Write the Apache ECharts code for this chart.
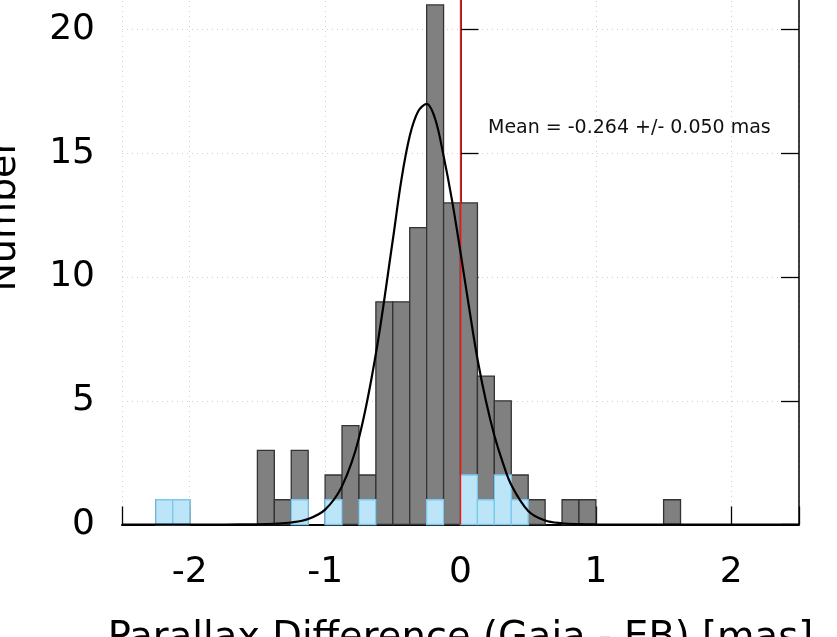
<!DOCTYPE html>
<html>
<head>
<meta charset="utf-8">
<script src="https://cdn.jsdelivr.net/npm/echarts@6/dist/echarts.min.js"></script>
<style>
  html, body { margin: 0; padding: 0; background: #fff; }
  #main { width: 837px; height: 637px; }
</style>
</head>
<body>
<div id="main"></div>
<script>
// histogram bins (0.125 mas wide), left edges
var binWidth = 0.125;
var binStart = [-2.25, -2.125, -2.0, -1.875, -1.75, -1.625, -1.5, -1.375, -1.25, -1.125,
    -1.0, -0.875, -0.75, -0.625, -0.5, -0.375, -0.25, -0.125, 0, 0.125,
    0.25, 0.375, 0.5, 0.625, 0.75, 0.875, 1.0, 1.125, 1.25, 1.375, 1.5];
// all stars
var totalCounts = [1, 1, 0, 0, 0, 0, 3, 1, 3, 0,
    2, 4, 2, 9, 9, 12, 21, 13, 13, 6,
    5, 2, 1, 0, 1, 1, 0, 0, 0, 0, 1];
// highlighted subset (light blue)
var subsetCounts = [1, 1, 0, 0, 0, 0, 0, 0, 1, 0,
    1, 0, 1, 0, 0, 0, 1, 0, 2, 1,
    2, 1, 0, 0, 0, 0, 0, 0, 0, 0, 0];

// gaussian fit
var fitX = [-2.5, -1.75, -1.5, -1.375, -1.25, -1.125, -1.0, -0.875, -0.75, -0.625,
    -0.5, -0.4375, -0.375, -0.3125, -0.25, -0.1875, -0.125, -0.0625, 0, 0.0625,
    0.125, 0.1875, 0.25, 0.3125, 0.375, 0.5, 0.625, 0.75, 0.875, 1.0, 1.25, 2.5];
var fitY = [0, 0, 0.01, 0.03, 0.08, 0.22, 0.6, 1.55, 3.5, 6.9,
    11.5, 13.9, 15.7, 16.7, 17.0, 16.4, 14.9, 13.1, 11.0, 8.8,
    6.7, 5.0, 3.6, 2.5, 1.6, 0.55, 0.16, 0.05, 0.015, 0.004, 0, 0];

var meanValue = 0;
var meanText = 'Mean = -0.264 +/- 0.050 mas';

var xTitle = 'Parallax Difference (Gaia - EB) [mas]';
var yTitle = 'Number';

var FONT = 'DejaVu Sans';

function binData(counts) {
    var out = [];
    for (var i = 0; i < binStart.length; i++) {
        if (counts[i] > 0) out.push([binStart[i], binStart[i] + binWidth, counts[i]]);
    }
    return out;
}

function barRenderer(fill, stroke) {
    return function (params, api) {
        var p0 = api.coord([api.value(0), api.value(2)]);
        var p1 = api.coord([api.value(1), 0]);
        return {
            type: 'rect',
            shape: {x: p0[0], y: p0[1], width: p1[0] - p0[0], height: p1[1] - p0[1]},
            style: {fill: fill, stroke: stroke, lineWidth: 1.3}
        };
    };
}

var chart = echarts.init(document.getElementById('main'));

var fitData = fitX.map(function (x, i) { return [x, fitY[i]]; });

chart.setOption({
    animation: false,
    backgroundColor: '#fff',
    grid: {left: 122, right: 38, top: -94, bottom: 112.5, containLabel: false, outerBoundsMode: 'none'},
    xAxis: {
        type: 'value',
        min: -2.5,
        max: 2.5,
        splitNumber: 5,
        name: xTitle,
        nameLocation: 'middle',
        nameGap: 95,
        nameTextStyle: {fontFamily: FONT, fontSize: 38.5, color: '#000'},
        axisLine: {onZero: false, lineStyle: {color: '#000', width: 2}},
        axisTick: {inside: true, length: 18, lineStyle: {color: '#000', width: 1.3}},
        axisLabel: {
            fontFamily: FONT, fontSize: 36, color: '#000', margin: 30,
            formatter: function (v) { return Math.abs(v) > 2.4 ? '' : String(v); }
        },
        splitLine: {show: true, lineStyle: {color: '#d0d0d0', type: [1, 4], width: 1}}
    },
    yAxis: [{
        type: 'value',
        min: 0,
        max: 25,
        interval: 5,
        name: yTitle,
        nameLocation: 'middle',
        nameGap: 98,
        nameTextStyle: {fontFamily: FONT, fontSize: 38, color: '#000'},
        axisLine: {show: true, lineStyle: {color: '#000', width: 1.5}},
        axisTick: {show: true, inside: true, length: 18, lineStyle: {color: '#000', width: 1.3}},
        axisLabel: {fontFamily: FONT, fontSize: 36, color: '#000', margin: 27, showMaxLabel: false},
        splitLine: {show: true, lineStyle: {color: '#d0d0d0', type: [1, 4], width: 1}}
    }, {
        type: 'value',
        position: 'right',
        min: 0,
        max: 25,
        interval: 5,
        axisLine: {show: true, lineStyle: {color: '#000', width: 1.5}},
        axisTick: {show: true, inside: true, length: 18, lineStyle: {color: '#000', width: 1.3}},
        axisLabel: {show: false},
        splitLine: {show: false}
    }],
    graphic: [{
        type: 'text',
        left: 488,
        top: 119,
        z: 10,
        style: {text: meanText, fontFamily: FONT, fontSize: 19, fill: '#111'}
    }],
    series: [{
        type: 'custom',
        name: 'all',
        z: 2,
        renderItem: barRenderer('#808080', '#333333'),
        encode: {x: [0, 1], y: 2},
        data: binData(totalCounts)
    }, {
        type: 'custom',
        name: 'subset',
        z: 3,
        renderItem: barRenderer('#bde5f8', '#7cc8ee'),
        encode: {x: [0, 1], y: 2},
        data: binData(subsetCounts)
    }, {
        type: 'line',
        name: 'fit',
        z: 5,
        smooth: 0.35,
        symbol: 'none',
        lineStyle: {color: '#000', width: 2.2},
        data: fitData,
        markLine: {
            silent: true,
            symbol: 'none',
            label: {show: false},
            lineStyle: {color: '#ff1010', width: 1.3, type: 'solid', opacity: 1},
            emphasis: {disabled: true},
            data: [{xAxis: meanValue}]
        }
    }]
});
</script>
</body>
</html>
